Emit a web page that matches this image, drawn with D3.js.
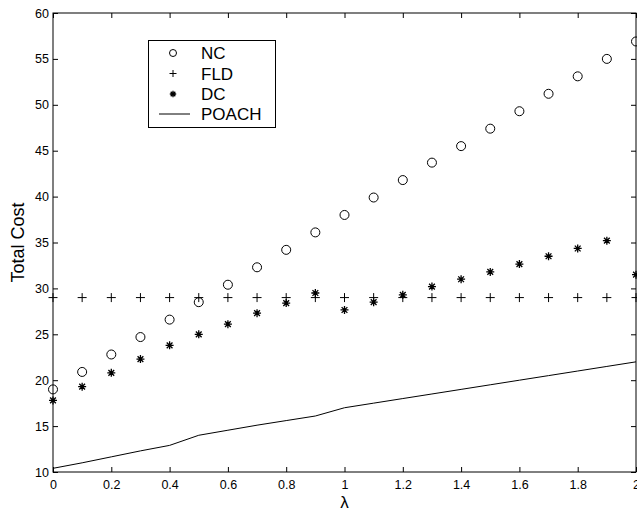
<!DOCTYPE html>
<html>
<head>
<meta charset="utf-8">
<script src="https://cdn.jsdelivr.net/npm/d3@7"></script>
<style>
  body { margin: 0; background: #fff; }
  text { font-family: "Liberation Sans", Arial, sans-serif; fill: #000; }
</style>
</head>
<body>
<svg id="chart" width="637" height="517"></svg>
<script>
// values
var lambda = [0, 0.1, 0.2, 0.3, 0.4, 0.5, 0.6, 0.7, 0.8, 0.9, 1.0,
              1.1, 1.2, 1.3, 1.4, 1.5, 1.6, 1.7, 1.8, 1.9, 2.0];
var nc    = [19.0, 20.9, 22.8, 24.7, 26.6, 28.5, 30.4, 32.3, 34.2, 36.1, 38.0,
             39.9, 41.8, 43.7, 45.5, 47.4, 49.3, 51.2, 53.1, 55.0, 56.9];
var fld   = [29, 29, 29, 29, 29, 29, 29, 29, 29, 29, 29,
             29, 29, 29, 29, 29, 29, 29, 29, 29, 29];
var dc    = [17.8, 19.3, 20.8, 22.3, 23.8, 25.0, 26.1, 27.3, 28.4, 29.5, 27.65,
             28.5, 29.3, 30.2, 31.0, 31.8, 32.65, 33.5, 34.35, 35.2, 31.5];
var poach = [10.4, 11.0, 11.65, 12.3, 12.9, 14.0, 14.55, 15.1, 15.6, 16.1, 17.0,
             17.5, 18.0, 18.5, 19.0, 19.5, 20.0, 20.5, 21.0, 21.5, 22.0];
var xTicks = [0, 0.2, 0.4, 0.6, 0.8, 1, 1.2, 1.4, 1.6, 1.8, 2];
var yTicks = [10, 15, 20, 25, 30, 35, 40, 45, 50, 55, 60];
var seriesNames = ["NC", "FLD", "DC", "POACH"];

var svg = d3.select("#chart"),
    padL = 53, padR = 636, padT = 13, padB = 472;

var x = d3.scaleLinear().domain([0, 2]).range([padL, padR]),
    y = d3.scaleLinear().domain([10, 60]).range([padB, padT]);

// axes with inward ticks on all four sides
var fmt = function(d) { return d; };
svg.append("g").attr("transform", "translate(0," + padB + ")")
    .call(d3.axisBottom(x).tickValues(xTicks).tickFormat(fmt).tickSizeInner(-5).tickSizeOuter(0).tickPadding(8));
svg.append("g").attr("transform", "translate(0," + padT + ")")
    .call(d3.axisTop(x).tickValues(xTicks).tickFormat("").tickSizeInner(-5).tickSizeOuter(0));
svg.append("g").attr("transform", "translate(" + padL + ",0)")
    .call(d3.axisLeft(y).tickValues(yTicks).tickFormat(fmt).tickSizeInner(-5).tickSizeOuter(0).tickPadding(4));
svg.append("g").attr("transform", "translate(" + padR + ",0)")
    .call(d3.axisRight(y).tickValues(yTicks).tickFormat("").tickSizeInner(-5).tickSizeOuter(0));

svg.selectAll(".domain").remove();
svg.selectAll(".tick line").attr("stroke", "#000");
svg.selectAll(".tick text").style("font-size", "12.5px").attr("fill", "#000");

svg.append("rect")
    .attr("x", padL).attr("y", padT)
    .attr("width", padR - padL).attr("height", padB - padT)
    .attr("fill", "none").attr("stroke", "#000").attr("stroke-width", 1);

// POACH line
var line = d3.line()
    .x(function(d, i) { return x(lambda[i]); })
    .y(function(d) { return y(d); });
svg.append("path").datum(poach)
    .attr("d", line).attr("fill", "none").attr("stroke", "#000").attr("stroke-width", 1);

// marker shapes
function plus(g, s) {
  g.append("path").attr("d", "M" + (-s) + ",0H" + s + "M0," + (-s) + "V" + s)
    .attr("stroke", "#000").attr("stroke-width", 1).attr("fill", "none");
}
function star(g, s) {
  var d = s * 0.72;
  g.append("path")
    .attr("d", "M" + (-s) + ",0H" + s + "M0," + (-s) + "V" + s +
               "M" + (-d) + "," + (-d) + "L" + d + "," + d +
               "M" + (-d) + "," + d + "L" + d + "," + (-d))
    .attr("stroke", "#000").attr("stroke-width", 1.3).attr("fill", "none");
}

svg.append("g").selectAll("circle").data(nc).enter().append("circle")
    .attr("cx", function(d, i) { return x(lambda[i]); })
    .attr("cy", function(d) { return y(d); })
    .attr("r", 4.5).attr("fill", "none").attr("stroke", "#000").attr("stroke-width", 1);

svg.append("g").selectAll("g").data(fld).enter().append("g")
    .attr("transform", function(d, i) { return "translate(" + x(lambda[i]) + "," + y(d) + ")"; })
    .each(function() { plus(d3.select(this), 4.5); });

svg.append("g").selectAll("g").data(dc).enter().append("g")
    .attr("transform", function(d, i) { return "translate(" + x(lambda[i]) + "," + y(d) + ")"; })
    .each(function() { star(d3.select(this), 4); });

// legend
var lg = svg.append("g");
lg.append("rect").attr("x", 148.5).attr("y", 40.5).attr("width", 127).attr("height", 87)
    .attr("fill", "#fff").attr("stroke", "#000");
var rows = [53, 73.5, 94, 114];
seriesNames.forEach(function(name, i) {
  var ry = rows[i];
  if (i === 0) lg.append("circle").attr("cx", 173).attr("cy", ry).attr("r", 3.5)
      .attr("fill", "none").attr("stroke", "#000");
  if (i === 1) plus(lg.append("g").attr("transform", "translate(173," + ry + ")"), 3.5);
  if (i === 2) star(lg.append("g").attr("transform", "translate(173," + ry + ")"), 3.2);
  if (i === 3) lg.append("line").attr("x1", 159).attr("x2", 190).attr("y1", ry).attr("y2", ry)
      .attr("stroke", "#000");
  lg.append("text").attr("x", 201).attr("y", ry + 6).style("font-size", "17px").text(name);
});

// axis titles
svg.append("text").attr("x", x(1)).attr("y", 508).attr("text-anchor", "middle")
    .style("font-size", "17px").text("λ");
svg.append("text").attr("transform", "translate(24," + ((padT + padB) / 2) + ") rotate(-90)")
    .attr("text-anchor", "middle").style("font-size", "18px").text("Total Cost");
</script>
</body>
</html>
